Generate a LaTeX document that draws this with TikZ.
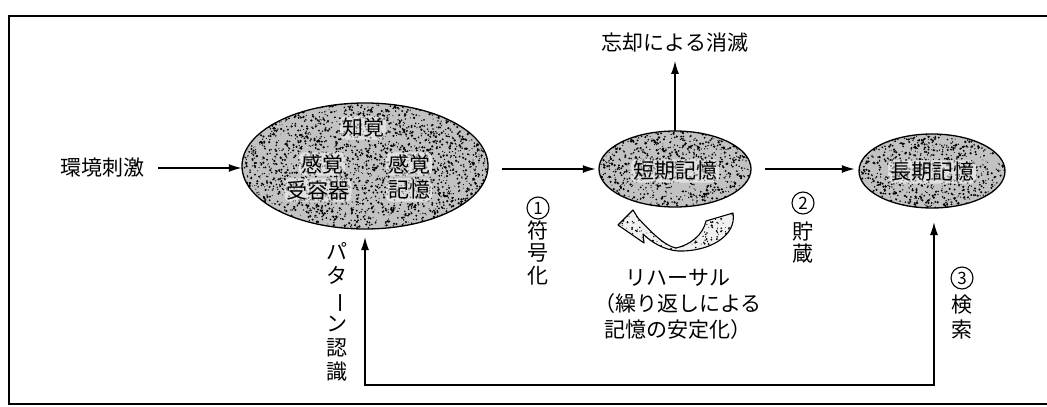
\documentclass[tikz,border=0pt]{standalone}
\usepackage{fontspec}
\setmainfont{Noto Sans CJK JP}
\usepackage{graphicx}
\usetikzlibrary{shapes.geometric,arrows.meta}
\newcommand\myspeckle[5]{%
  \begin{scope}
    \clip (#1,#2) ellipse [x radius=#3pt, y radius=#4pt];
    \foreach \k in {1,...,#5} {\pgfmathsetmacro\rr{0.45+0.85*rnd}\fill[black] (#1+#3*rand, #2+#4*rand) circle (\rr pt);}
  \end{scope}}
\begin{document}
\begin{tikzpicture}[x=1pt,y=-1pt,
  txt/.style={font=\fontsize{21}{22}\selectfont, inner sep=0pt},
  intxt/.style={txt, fill=white, fill opacity=0.5, text opacity=1, rounded corners=6pt, inner sep=2pt},
  vtxt/.style={txt, align=center, font=\fontsize{21}{22.5}\selectfont},
  rtxt/.style={txt, align=center, font=\fontsize{21}{26}\selectfont},
  blob/.style={ellipse, fill=black!24, inner sep=0pt},
  rim/.style={line width=1.3pt},
  cnum/.style={circle, draw, line width=1.1pt, minimum size=22pt, inner sep=0pt, font=\fontsize{17}{17}\selectfont},
  arr/.style={line width=1.4pt, -{Latex[length=13pt,width=8pt]}},
  arrtwo/.style={line width=1.4pt, {Latex[length=13pt,width=8pt]}-{Latex[length=13pt,width=8pt]}},
]
\pgfmathsetseed{7}
\useasboundingbox (0,0) rectangle (1047,407);
\draw[line width=1.2pt] (1047,16) -- (9,16) -- (9,404) -- (1047,404);

% ellipses
\node[blob, minimum width=246pt, minimum height=126pt] (per) at (365,166) {};
\node[blob, minimum width=152pt, minimum height=76pt] (stm) at (675,169) {};
\node[blob, minimum width=146pt, minimum height=74pt] (ltm) at (932,171) {};
\myspeckle{365}{166}{123}{63}{2700}
\myspeckle{675}{169}{76}{38}{1000}
\myspeckle{932}{171}{73}{37}{940}
\draw[rim] (per.center) ellipse [x radius=123pt, y radius=63pt];
\draw[rim] (stm.center) ellipse [x radius=76pt, y radius=38pt];
\draw[rim] (ltm.center) ellipse [x radius=73pt, y radius=37pt];

% texts in ellipses
\node[intxt] (t1) at (363,128) {知覚};
\node[intxt] (t2) at (322,164) {感覚};
\node[intxt] (t3) at (318,190) {受容器};
\node[intxt] (t4) at (409,164) {感覚};
\node[intxt] (t5) at (409,190) {記憶};
\node[intxt] (t6) at (675,171) {短期記憶};
\node[intxt] (t7) at (932,172) {長期記憶};

% outside texts
\node[txt] (env) at (102,168) {環境刺激};
\node[txt] (forget) at (675,43) {忘却による消滅};
\node[cnum] (n1) at (538,208) {1};
\node[vtxt] (l1) at (538,252.5) {符\\号\\化};
\node[cnum] (n2) at (803,203) {2};
\node[vtxt, font=\fontsize{21}{21.5}\selectfont] (l2) at (803,242.5) {貯\\蔵};
\node[cnum] (n3) at (962,278) {3};
\node[vtxt, font=\fontsize{21}{25}\selectfont] (l3) at (962,317.5) {検\\索};
\node[vtxt, font=\fontsize{21}{24}\selectfont] (pat) at (337,312) {パ\\タ\\\rotatebox[origin=c]{-90}{ー}\\ン\\認\\識};
\node[rtxt] (reh) at (678,304) {リハーサル\\（繰り返しによる\\記憶の安定化）};

% arrows
\draw[arr] ([xshift=14pt]env.east) -- (per.west |- env.east);
\draw[arr] ([xshift=14pt]per.east |- stm.west) -- ([xshift=-3pt]stm.west);
\draw[arr] ([xshift=14pt]stm.east) -- ([xshift=-4pt]ltm.west |- stm.east);
\draw[arr] (stm.north) -- ([yshift=-8pt]forget.south);

\coordinate (lt) at (365,237);
\coordinate (rt) at (934,222);
\coordinate (lb) at (365,385);
\coordinate (rb) at (934,385);
\draw[arrtwo] (rt) -- (rb) -- (lb) -- (lt);

% rehearsal arrow
\def\rehpath{(733,213) .. controls (737,236) and (709,252) .. (678,251)
  .. controls (664,250) and (651,242) .. (643,234)
  -- (644,243) -- (618,225) -- (633,210) -- (638,218)
  .. controls (652,233) and (665,246) .. (676,248)
  .. controls (690,245) and (703,235) .. (706,221) -- cycle}
\fill[black!6] \rehpath;
\begin{scope}
  \clip \rehpath;
  \foreach \k in {1,...,320} {\pgfmathsetmacro\rr{0.4+0.7*rnd}\fill[black] (676+60*rand, 231+23*rand) circle (\rr pt);}
\end{scope}
\draw[line width=1.1pt, line join=round] \rehpath;
\end{tikzpicture}
\end{document}
